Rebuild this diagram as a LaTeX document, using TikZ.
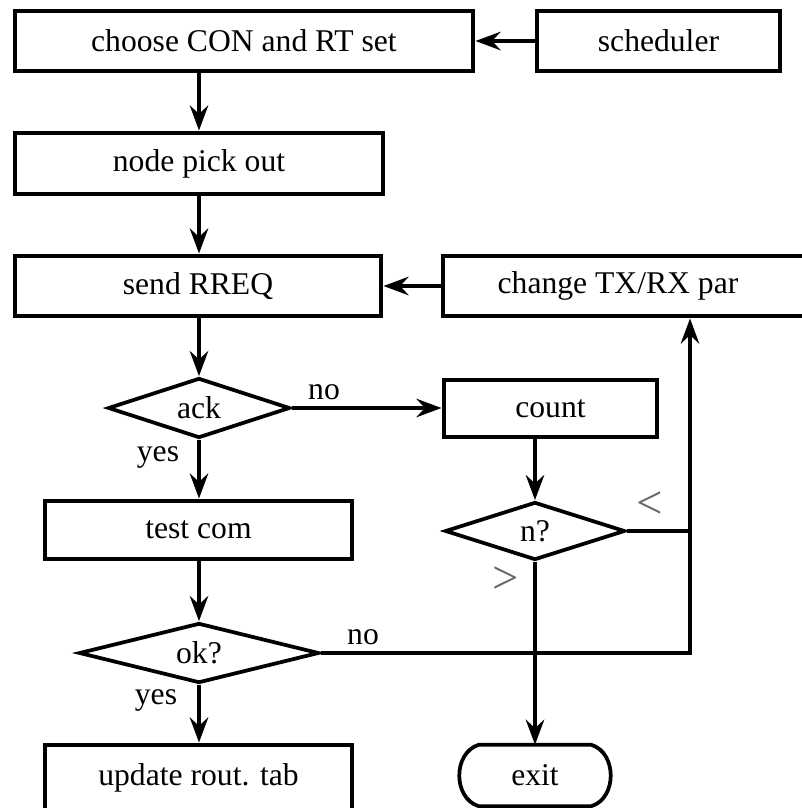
\documentclass[tikz,border=0pt]{standalone}
\usepackage{fontspec}
\setmainfont{Liberation Serif}
\usetikzlibrary{arrows.meta,shapes.geometric,calc}
\tikzset{
  box/.style={draw,line width=4.2pt,rectangle,inner sep=0pt,font=\fontsize{27}{30}\selectfont},
  dia/.style={draw,line width=3.2pt,diamond,aspect=3,inner sep=0pt,font=\fontsize{27}{30}\selectfont},
  lbl/.style={inner sep=0pt,font=\fontsize{27}{30}\selectfont},
  cmp/.style={inner sep=0pt,text=black!60,font=\fontsize{40}{40}\selectfont},
  conn/.style={line width=3.8pt},
  arr/.style={conn,-{Stealth[length=0.75cm,width=0.55cm,inset=0.25cm]}},
}
\begin{document}
\begin{tikzpicture}[x=0.03cm,y=-0.03cm]
\useasboundingbox (0,0) rectangle (801,808);
% nodes
\node[box,minimum width=458*0.03cm,minimum height=60*0.03cm] (choose) at (244,41) {choose CON and RT set};
\node[box,minimum width=243*0.03cm,minimum height=60*0.03cm] (sched) at (658.5,41) {scheduler};
\node[box,minimum width=368*0.03cm,minimum height=61*0.03cm] (pick) at (199,163.5) {node pick out};
\node[box,minimum width=366*0.03cm,minimum height=60*0.03cm] (send) at (198,286) {send RREQ};
\node[box,minimum width=363*0.03cm,minimum height=60*0.03cm] (change) at (624.5,286) {};
\node[lbl] (changet) at (618,286) {change TX/RX par};
\node[dia,minimum width=182*0.03cm,minimum height=60*0.03cm] (ack) at (199,408) {ack};
\node[box,minimum width=213*0.03cm,minimum height=57*0.03cm] (count) at (550.5,408.5) {count};
\node[box,minimum width=307*0.03cm,minimum height=58*0.03cm] (test) at (198.5,530) {test com};
\node[dia,minimum width=180*0.03cm,minimum height=58*0.03cm] (n) at (535,531) {n?};
\node[dia,minimum width=240*0.03cm,minimum height=60*0.03cm] (ok) at (199,653) {ok?};
\node[box,minimum width=307*0.03cm,minimum height=66*0.03cm] (upd) at (198.5,778) {update rout. tab};
\node[lbl,minimum width=112*0.03cm,minimum height=61*0.03cm] (exit) at (535,775.5) {exit};
\draw[line width=3.2pt] (exit.north west) -- (exit.north east)
  .. controls +(26,8) and +(26,-8) .. (exit.south east) -- (exit.south west)
  .. controls +(-26,-8) and +(-26,8) .. (exit.north west) -- cycle;
% labels
\node[lbl] (no1) at (324,392) {no};
\node[lbl] (yes1) at (158,457) {yes};
\node[cmp] (lt) at (650,505) {<};
\node[cmp] (gt) at (506,580) {>};
\node[lbl] (no2) at (363,637) {no};
\node[lbl] (yes2) at (156,700) {yes};
\coordinate (rx) at (690,0);
% connectors
\draw[arr] (sched.west) -- (choose.east);
\draw[arr] (pick.north |- choose.south) -- (pick.north);
\draw[arr] (pick.south) -- (send.north -| pick.south);
\draw[arr] (change.west) -- (send.east);
\draw[arr] (ack.north |- send.south) -- (ack.north);
\draw[arr] (ack.east) -- (count.west |- ack.east);
\draw[arr] (ack.south) -- (ack.south |- test.north);
\draw[arr] (n.north |- count.south) -- (n.north);
\draw[arr] (ok.north |- test.south) -- (ok.north);
\draw[arr] (ok.south) -- (ok.south |- upd.north);
\draw[arr] (n.south) -- (exit.north);
\draw[conn] (n.east) -- (n.east -| rx);
\draw[arr] (ok.east) -- (ok.east -| rx) -- (rx |- change.south);
\end{tikzpicture}
\end{document}
